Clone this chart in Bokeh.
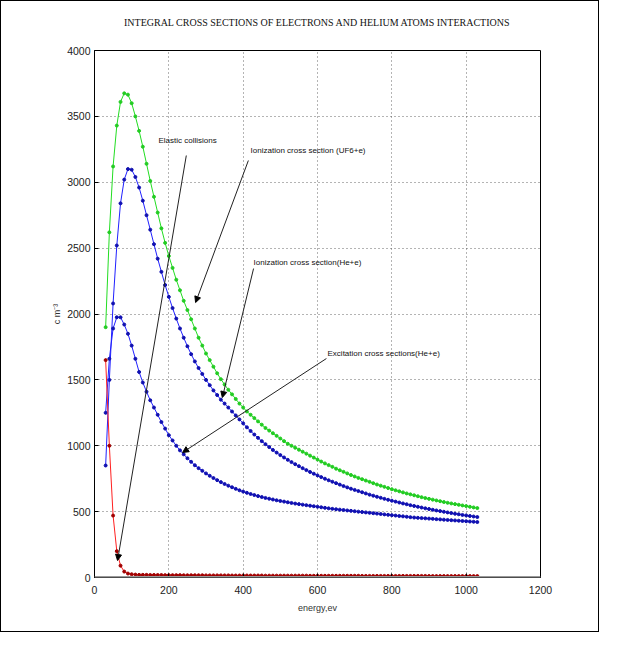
from bokeh.plotting import figure
from bokeh.models import Arrow, NormalHead, Label, Span, FixedTicker, Title
from bokeh.embed import file_html
from bokeh.resources import INLINE

energy = list(range(30, 1031, 10))

ion_uf6 = [1900, 2620, 3120, 3430, 3610, 3675, 3665, 3600, 3500, 3390,
           3270, 3140, 3010, 2890, 2770, 2650, 2540, 2440, 2350, 2260,
           2180, 2100, 2030, 1960, 1890, 1820, 1760, 1700, 1650, 1600,
           1550, 1505, 1465, 1425, 1390, 1355, 1320, 1290, 1260, 1235,
           1210, 1185, 1160, 1135, 1115, 1095, 1075, 1055, 1035, 1015,
           1000, 985, 970, 955, 940, 925, 910, 895, 880, 866,
           853, 840, 826, 814, 802, 790, 778, 767, 756, 746,
           736, 726, 716, 706, 697, 688, 679, 670, 662, 654,
           646, 638, 631, 624, 617, 610, 603, 597, 591, 585,
           579, 573, 567, 562, 557, 552, 547, 542, 537, 532, 527]

ion_he = [850, 1500, 2080, 2520, 2840, 3020, 3100, 3095, 3040, 2960,
          2860, 2750, 2640, 2530, 2420, 2320, 2220, 2130, 2045, 1965,
          1890, 1820, 1755, 1695, 1640, 1590, 1545, 1500, 1460, 1420,
          1385, 1350, 1320, 1290, 1260, 1230, 1200, 1170, 1140, 1112,
          1085, 1060, 1035, 1012, 990, 968, 948, 929, 911, 893,
          876, 860, 845, 830, 815, 801, 788, 775, 762, 750,
          738, 727, 716, 705, 694, 684, 674, 665, 656, 647,
          638, 629, 621, 613, 605, 597, 590, 583, 576, 569,
          562, 556, 549, 543, 537, 531, 525, 520, 514, 509,
          504, 499, 494, 489, 484, 480, 475, 471, 467, 463, 459]

excit_he = [1250, 1660, 1890, 1975, 1975, 1920, 1850, 1760, 1660, 1560,
            1480, 1410, 1345, 1290, 1235, 1180, 1130, 1080, 1040, 1000,
            965, 935, 905, 878, 852, 830, 810, 790, 772, 755,
            739, 724, 710, 697, 685, 673, 662, 652, 643, 634,
            626, 618, 611, 604, 598, 592, 586, 581, 576, 571,
            566, 561, 557, 553, 549, 545, 541, 537, 533, 529,
            525, 521, 518, 515, 512, 509, 506, 503, 500, 497,
            494, 491, 488, 485, 482, 479, 476, 473, 470, 467,
            464, 461, 458, 455, 453, 451, 449, 447, 445, 443,
            441, 439, 437, 435, 433, 431, 429, 427, 425, 423, 421]

elastic = [1650, 1000, 470, 200, 90, 45, 30, 25, 22, 20,
           20, 20, 19, 19, 19, 19, 18, 18, 18, 18,
           18, 17, 17, 17, 17, 17, 17, 16, 16, 16,
           16, 16, 16, 16, 15, 15, 15, 15, 15, 15,
           15, 15, 15, 14, 14, 14, 14, 14, 14, 14,
           14, 14, 14, 14, 14, 13, 13, 13, 13, 13,
           13, 13, 13, 13, 13, 13, 13, 13, 13, 12,
           12, 12, 12, 12, 12, 12, 12, 12, 12, 12,
           12, 12, 12, 12, 12, 12, 12, 11, 11, 11,
           11, 11, 11, 11, 11, 11, 11, 11, 11, 11, 11]

x_ticks = [0, 200, 400, 600, 800, 1000, 1200]
y_ticks = [0, 500, 1000, 1500, 2000, 2500, 3000, 3500, 4000]

title_text = "INTEGRAL CROSS SECTIONS OF ELECTRONS AND HELIUM ATOMS INTERACTIONS"
annotations = [
    ("Elastic collisions", 172, 3317, 247, 3203, 62, 129),
    ("Ionization cross section (UF6+e)", 420, 3241, 414, 3165, 272, 2087),
    ("Ionization cross section(He+e)", 428, 2391, 428, 2345, 344, 1366),
    ("Excitation cross sections(He+e)", 627, 1700, 624, 1662, 237, 949),
]

NARROW = "'Liberation Sans Narrow', 'Arial Narrow', 'Liberation Sans'"

p = figure(width=599, height=632, x_range=(0, 1200), y_range=(0, 4000),
           output_backend="svg", toolbar_location=None,
           min_border_left=93, min_border_right=60, min_border_top=49,
           min_border_bottom=56)
p.styles = {"border": "1px solid black"}

# spacer between title and frame (closest to the frame)
p.add_layout(Title(text="\u00a0", text_font_size="19px", standoff=0), "above")
p.add_layout(Title(text=title_text, align="center", standoff=0,
                   text_font="'Liberation Serif', serif", text_font_size="10px",
                   text_font_style="normal", text_color="#111111"), "above")

p.outline_line_color = "black"
p.outline_line_width = 1

for ax in (p.xaxis[0], p.yaxis[0]):
    ax.major_tick_in = 4
    ax.major_tick_out = 0
    ax.minor_tick_line_color = None
    ax.major_label_text_font = NARROW
    ax.major_label_text_font_size = "10.5px"
    ax.major_label_text_color = "#222222"
    ax.axis_label_text_font = NARROW
    ax.axis_label_text_font_size = "9px"
    ax.axis_label_text_font_style = "normal"
    ax.axis_label_text_color = "#333333"
    ax.axis_line_color = "black"

p.xaxis.ticker = FixedTicker(ticks=x_ticks)
p.yaxis.ticker = FixedTicker(ticks=y_ticks)
p.xaxis.axis_label = "energy,ev"
p.yaxis.axis_label = "c m\u207b\u00b3"
p.xaxis.major_label_standoff = 8
p.yaxis.major_label_standoff = 4
p.xaxis.axis_label_standoff = 6
p.yaxis.axis_label_standoff = 2

p.xgrid.grid_line_color = "#444444"
p.ygrid.grid_line_color = "#444444"
p.xgrid.grid_line_dash = "1 3"
p.ygrid.grid_line_dash = "1 3"
p.xgrid.grid_line_alpha = 0.8
p.ygrid.grid_line_alpha = 0.8

p.add_layout(Span(location=0, dimension="width", line_color="#999999", line_width=3))

series = [
    (ion_uf6, "#22dd22", "#22cc22"),
    (ion_he, "#2020ff", "#1010b0"),
    (excit_he, "#2020ff", "#1010b0"),
    (elastic, "#ff2020", "#a00000"),
]
for vals, lc, mc in series:
    p.line(energy, vals, line_color=lc, line_width=1)
    p.scatter(energy, vals, size=3, fill_color=mc, line_color=mc)

for text, tx, ty, x0, y0, x1, y1 in annotations:
    p.add_layout(Arrow(end=NormalHead(size=6, fill_color="black", line_color="black"),
                       x_start=x0, y_start=y0, x_end=x1, y_end=y1,
                       line_color="#222222", line_width=1))
    p.add_layout(Label(x=tx, y=ty, text=text, text_font=NARROW,
                       text_font_size="8px", text_baseline="middle",
                       text_color="#111111"))

open("out.html", "w").write(file_html(p, INLINE))
